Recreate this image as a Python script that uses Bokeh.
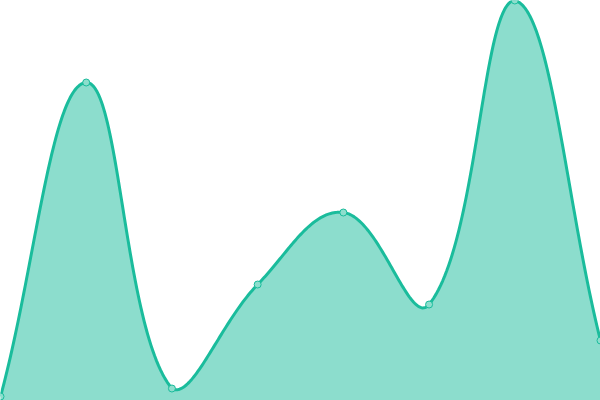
import numpy as np
from bokeh.plotting import figure
from bokeh.models import Range1d
from bokeh.embed import file_html
from bokeh.resources import INLINE

# data
labels = ["1", "2", "3", "4", "5", "6", "7", "8"]
values = [1, 79.5, 3, 29, 47, 24, 100, 15]
line_color = "#1abc9c"
marker_fill = "#8ddecd"
tension = 0.4

W, H = 600, 400
x_min, x_max = 0, len(values) - 1
y_min, y_max = 0, 100

p = figure(width=W, height=H, output_backend="svg", toolbar_location=None,
           x_range=Range1d(x_min, x_max), y_range=Range1d(y_min, y_max),
           min_border=0, min_border_left=0, min_border_right=0,
           min_border_top=0, min_border_bottom=0)
p.axis.visible = False
p.grid.visible = False
p.outline_line_color = None
p.background_fill_color = "white"
p.border_fill_color = "white"

# screen-space points (Chart.js style spline computed in pixel space)
xs = np.arange(len(values), dtype=float)
px = (xs - x_min) / (x_max - x_min) * W
py = (np.array(values, dtype=float) - y_min) / (y_max - y_min) * H
n = len(values)
cp_prev = np.zeros((n, 2))
cp_next = np.zeros((n, 2))
for i in range(n):
    prev = (px[max(i - 1, 0)], py[max(i - 1, 0)])
    cur = (px[i], py[i])
    nxt = (px[min(i + 1, n - 1)], py[min(i + 1, n - 1)])
    d01 = np.hypot(cur[0] - prev[0], cur[1] - prev[1])
    d12 = np.hypot(nxt[0] - cur[0], nxt[1] - cur[1])
    s01 = d01 / (d01 + d12)
    s12 = d12 / (d01 + d12)
    fa, fb = tension * s01, tension * s12
    dx, dy = nxt[0] - prev[0], nxt[1] - prev[1]
    cp_prev[i] = (cur[0] - fa * dx, cur[1] - fa * dy)
    cp_next[i] = (cur[0] + fb * dx, cur[1] + fb * dy)
cp_prev[:, 0] = np.clip(cp_prev[:, 0], 0, W)
cp_prev[:, 1] = np.clip(cp_prev[:, 1], 0, H)
cp_next[:, 0] = np.clip(cp_next[:, 0], 0, W)
cp_next[:, 1] = np.clip(cp_next[:, 1], 0, H)

t = np.linspace(0, 1, 60)
cx, cy = [], []
for i in range(n - 1):
    P0 = np.array([px[i], py[i]])
    C1 = cp_next[i]
    C2 = cp_prev[i + 1]
    P1 = np.array([px[i + 1], py[i + 1]])
    tt = t if i == 0 else t[1:]
    b = ((1 - tt) ** 3)[:, None] * P0 + (3 * (1 - tt) ** 2 * tt)[:, None] * C1 \
        + (3 * (1 - tt) * tt ** 2)[:, None] * C2 + (tt ** 3)[:, None] * P1
    cx.extend(b[:, 0])
    cy.extend(b[:, 1])
cx = np.array(cx) / W * (x_max - x_min) + x_min
cy = np.array(cy) / H * (y_max - y_min) + y_min

p.varea(x=cx, y1=np.zeros_like(cy), y2=cy, fill_color=line_color, fill_alpha=0.5)
p.line(x=cx, y=cy, line_color=line_color, line_width=3, line_join="round")
p.scatter(x=xs, y=values, size=7, fill_color=marker_fill, fill_alpha=1.0,
          line_color=line_color, line_width=1)

open("out.html", "w").write(file_html(p, INLINE))
